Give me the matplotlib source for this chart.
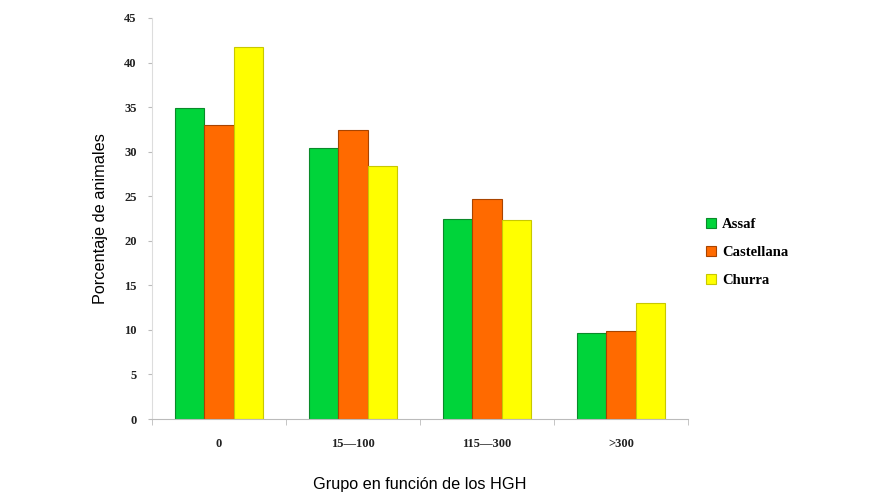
import matplotlib.pyplot as plt
import numpy as np

# data
grupos = ["0", "15\u2014100", "115\u2014300", ">300"]
assaf = [34.9, 30.4, 22.4, 9.6]
castellana = [33.0, 32.4, 24.7, 9.9]
churra = [41.7, 28.4, 22.3, 13.0]

fig = plt.figure(figsize=(8.75, 5), dpi=100)
ax = fig.add_axes([0.1737, 0.162, 0.6126, 0.802])

x = np.arange(len(grupos))
w = 0.221
ax.bar(x - w, assaf, w, color="#00d43a", edgecolor="#0a8a2a", linewidth=0.8, label="Assaf")
ax.bar(x, castellana, w, color="#ff6a00", edgecolor="#a84400", linewidth=0.8, label="Castellana")
ax.bar(x + w, churra, w, color="#ffff00", edgecolor="#c8c800", linewidth=0.8, label="Churra")

ax.set_xlim(-0.5, 3.5)
ax.set_ylim(0, 45)
ax.set_yticks(range(0, 46, 5))
ax.set_xticks(x)
ax.set_xticklabels(grupos)
ax.set_xticks(np.arange(-0.5, 3.6, 1), minor=True)
ax.tick_params(axis="x", which="major", length=0, pad=14)
ax.tick_params(axis="x", which="minor", length=4, color="#bbbbbb")
ax.tick_params(axis="y", length=3, color="#bbbbbb", pad=8)
for lab in ax.get_xticklabels() + ax.get_yticklabels():
    lab.set_fontfamily("Liberation Serif")
    lab.set_fontsize(9)
    lab.set_fontweight("bold")
    lab.set_color("#222222")

for s in ["top", "right"]:
    ax.spines[s].set_visible(False)
ax.spines["left"].set_color("#dddddd")
ax.spines["bottom"].set_color("#bbbbbb")

ax.set_ylabel("Porcentaje de animales", fontsize=11.7, fontfamily="Liberation Sans", labelpad=12)
ax.set_xlabel("Grupo en función de los HGH", fontsize=11.7, fontfamily="Liberation Sans", labelpad=19)

ax.legend(loc="center left", bbox_to_anchor=(1.01, 0.415), frameon=False,
          prop={"family": "Liberation Serif", "size": 10.5, "weight": "bold"},
          handlelength=0.65, handleheight=0.65, labelspacing=1.05, handletextpad=0.4)

plt.savefig("out.png", dpi=100)
